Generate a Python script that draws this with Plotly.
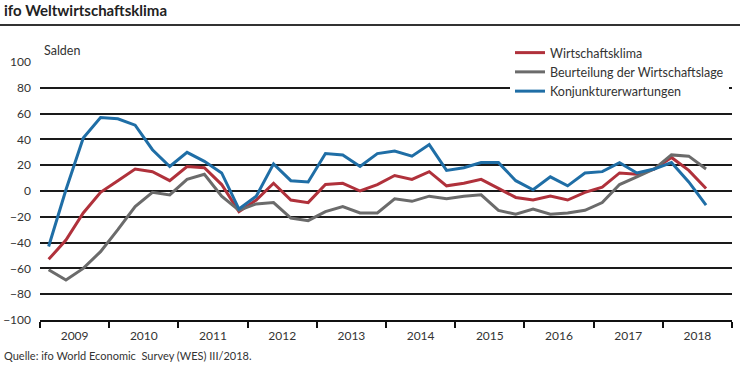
import plotly.graph_objects as go

years = list(range(2009, 2019))
quarters = [y + (q - 0.5) / 4 for y in range(2009, 2019) for q in range(1, 5)][:39]

wirtschaftsklima = [-53, -38, -17, -1, 8, 17, 15, 8, 19, 18, 5, -16,
                    -7, 6, -7, -9, 5, 6, 0, 5, 12, 9, 15, 4,
                    6, 9, 2, -5, -7, -4, -7, -1, 3, 14, 13, 17,
                    26, 16, 2]
beurteilung = [-61, -69, -60, -47, -30, -12, -1, -3, 9, 13, -4, -15,
               -10, -9, -21, -23, -16, -12, -17, -17, -6, -8, -4, -6,
               -4, -3, -15, -18, -14, -18, -17, -15, -9, 5, 11, 17,
               28, 27, 17]
erwartungen = [-43, 1, 41, 57, 56, 51, 32, 19, 30, 23, 14, -14,
               -4, 21, 8, 7, 29, 28, 19, 29, 31, 27, 36, 16,
               18, 22, 22, 8, 1, 11, 4, 14, 15, 22, 14, 17,
               22, 7, -11]

series_names = ["Wirtschaftsklima", "Beurteilung der Wirtschaftslage", "Konjunkturerwartungen"]
colors = ["#B0313B", "#6B6B6B", "#1F6EA6"]
y_ticks = list(range(-100, 101, 20))

FONT = "Lato"
fig = go.Figure()
for name, vals, col in zip(series_names, [wirtschaftsklima, beurteilung, erwartungen], colors):
    fig.add_trace(go.Scatter(x=quarters, y=vals, mode="lines", name=name,
                             line=dict(color=col, width=3)))

W, H = 740, 377
L, R, T, B = 40, 8, 62, 57
pw, ph = W - L - R, H - T - B

def px(xp):
    return (xp - L) / pw

def py(yp):
    return (H - B - yp) / ph

fig.update_layout(
    width=W, height=H,
    margin=dict(l=L, r=R, t=T, b=B, autoexpand=False),
    paper_bgcolor="white", plot_bgcolor="white",
    font=dict(family=FONT, size=12, color="#333333"),
    showlegend=True,
    legend=dict(x=px(510), y=py(38), xanchor="left", yanchor="top",
                bgcolor="white", font=dict(size=12.5, color="#333333"),
                tracegroupgap=0, itemwidth=30),
    xaxis=dict(range=[2009, 2019], tickvals=[y + 0.5 for y in years],
               ticktext=[str(y) for y in years], ticks="", showgrid=False,
               zeroline=False, showline=True, linecolor="#111111", linewidth=2,
               ticklabelstandoff=4,
               minor=dict(tickvals=list(range(2009, 2020)), ticks="outside",
                          ticklen=6, tickwidth=2, tickcolor="#111111", showgrid=False)),
    yaxis=dict(range=[-100, 100], tickvals=y_ticks, ticks="", showgrid=True,
               gridcolor="#1a1a1a", gridwidth=2, zeroline=False, showline=False,
               ticklabelstandoff=8),
    annotations=[
        dict(text="<b>ifo Weltwirtschaftsklima</b>", xref="paper", yref="paper",
             x=px(2), y=py(10), xanchor="left", yanchor="middle", showarrow=False,
             font=dict(size=15, color="#222222")),
        dict(text="Salden", xref="paper", yref="paper", x=px(42), y=py(51),
             xanchor="left", yanchor="middle", showarrow=False, font=dict(size=12.5)),
        dict(text="Quelle: ifo World Economic  Survey (WES) III/2018.", xref="paper",
             yref="paper", x=px(2), y=py(355), xanchor="left", yanchor="middle",
             showarrow=False, font=dict(size=11)),
    ],
    shapes=[dict(type="line", xref="paper", yref="paper", x0=px(0), x1=px(740),
                 y0=py(25), y1=py(25), line=dict(color="#333333", width=2))],
)

fig.write_html("out.html", config={"displayModeBar": False},
               post_script="document.body.style.margin='0';document.body.style.padding='0';")
